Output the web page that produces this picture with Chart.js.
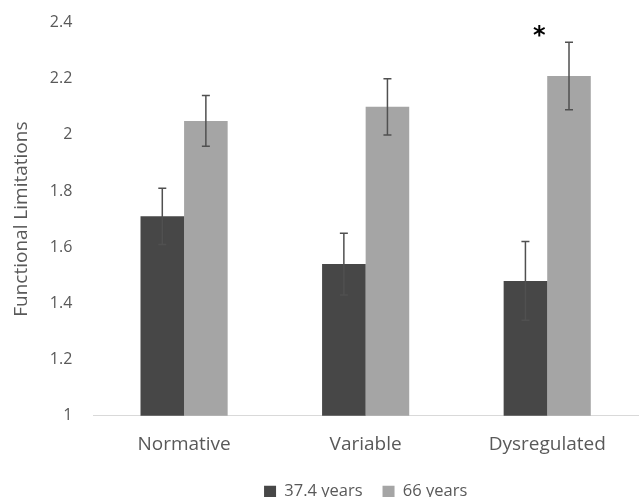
<!DOCTYPE html>
<html>
<head>
<meta charset="utf-8">
<script src="https://cdn.jsdelivr.net/npm/chart.js"></script>
<style>
  html, body { margin: 0; padding: 0; background: #fff; }
  #wrap { width: 639px; height: 497px; }
</style>
</head>
<body>
<div id="wrap"><canvas id="grafico"></canvas></div>
<script>
// ========== DATOS ==========
const categorias = ["Normative", "Variable", "Dysregulated"];
const etiquetasSeries = ["37.4 years", "66 years"];
const valoresJovenes = [1.71, 1.54, 1.48];
const valoresMayores = [2.05, 2.10, 2.21];
const errorJovenes = [0.10, 0.11, 0.14];
const errorMayores = [0.09, 0.10, 0.12];
const marcaSignificancia = ["", "", "*"];

const colorOscuro = "#474747";
const colorClaro = "#a5a5a5";
const fuente = "'Open Sans', sans-serif";

// ========== PLUGIN BARRAS DE ERROR ==========
const barrasError = {
  id: "barrasError",
  afterDatasetsDraw(chart) {
    const ctx = chart.ctx;
    const y = chart.scales.y;
    const errores = [errorJovenes, errorMayores];
    ctx.save();
    ctx.strokeStyle = "#505050";
    ctx.lineWidth = 1.5;
    chart.data.datasets.forEach((ds, i) => {
      const meta = chart.getDatasetMeta(i);
      meta.data.forEach((bar, j) => {
        const v = ds.data[j];
        const e = errores[i][j];
        const yTop = y.getPixelForValue(v + e);
        const yBot = y.getPixelForValue(v - e);
        ctx.beginPath();
        ctx.moveTo(bar.x, yTop); ctx.lineTo(bar.x, yBot);
        ctx.moveTo(bar.x - 4, yTop); ctx.lineTo(bar.x + 4, yTop);
        ctx.moveTo(bar.x - 4, yBot); ctx.lineTo(bar.x + 4, yBot);
        ctx.stroke();
      });
    });
    // asterisco
    ctx.fillStyle = "#000";
    ctx.font = "bold 24px 'DejaVu Sans', sans-serif";
    ctx.textAlign = "center";
    ctx.textBaseline = "middle";
    const meta0 = chart.getDatasetMeta(0);
    const meta1 = chart.getDatasetMeta(1);
    marcaSignificancia.forEach((m, j) => {
      if (!m) return;
      const xm = (meta0.data[j].x + meta1.data[j].x) / 2 - 8;
      const ym = y.getPixelForValue(valoresMayores[j] + errorMayores[j]) - 5;
      ctx.fillText(m, xm, ym);
    });
    ctx.restore();
  }
};

// ========== GRAFICO ==========
new Chart(document.getElementById("grafico"), {
  type: "bar",
  data: {
    labels: categorias,
    datasets: [
      { label: etiquetasSeries[0], data: valoresJovenes, backgroundColor: colorOscuro },
      { label: etiquetasSeries[1], data: valoresMayores, backgroundColor: colorClaro }
    ]
  },
  options: {
    responsive: true,
    maintainAspectRatio: false,
    animation: false,
    datasets: { bar: { barPercentage: 1, categoryPercentage: 0.48 } },
    layout: { padding: { top: 5, right: 1, left: 6, bottom: -13 } },
    plugins: {
      tooltip: { enabled: false },
      legend: {
        position: "bottom",
        fullSize: false,
        labels: {
          boxWidth: 12, boxHeight: 12, padding: 20,
          color: "#595959",
          font: { family: fuente, size: 16.5 }
        }
      }
    },
    scales: {
      x: {
        grid: { display: false },
        border: { color: "#d9d9d9", width: 1 },
        ticks: { color: "#595959", font: { family: fuente, size: 19 }, padding: 9 },
        afterFit: s => { s.height -= 1; }
      },
      y: {
        min: 1, max: 2.4,
        grid: { display: false },
        border: { display: false },
        ticks: {
          stepSize: 0.2, color: "#595959", font: { family: fuente, size: 16 }, padding: 13,
          callback: v => String(Math.round(v * 10) / 10)
        },
        title: {
          display: true, text: "Functional Limitations",
          color: "#595959", font: { family: fuente, size: 19 }, padding: { top: 4, bottom: 4 }
        }
      }
    }
  },
  plugins: [barrasError]
});
</script>
</body>
</html>
